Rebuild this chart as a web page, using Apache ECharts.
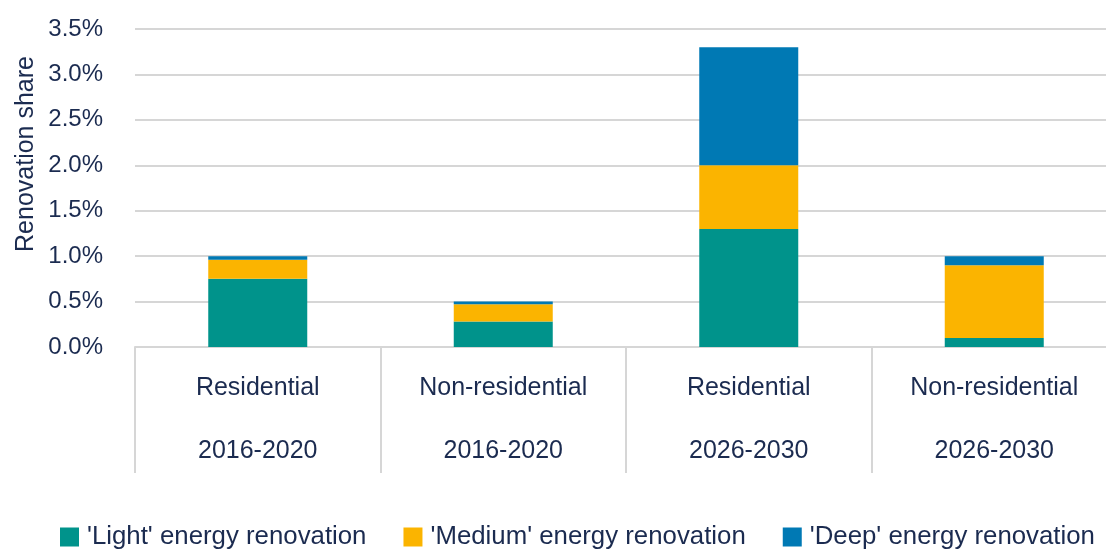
<!DOCTYPE html>
<html>
<head>
<meta charset="utf-8">
<script src="https://cdn.jsdelivr.net/npm/echarts@6/dist/echarts.min.js"></script>
<style>
  html, body { margin: 0; padding: 0; background: #fff; }
  #chart { width: 1106px; height: 552px; }
</style>
</head>
<body>
<div id="chart"></div>
<script>
// data
var groups = ['Residential', 'Non-residential', 'Residential', 'Non-residential'];
var periods = ['2016-2020', '2016-2020', '2026-2030', '2026-2030'];
var lightVals = [0.75, 0.28, 1.3, 0.1];
var mediumVals = [0.21, 0.19, 0.7, 0.8];
var deepVals = [0.04, 0.03, 1.3, 0.1];
var seriesNames = ["'Light' energy renovation", "'Medium' energy renovation", "'Deep' energy renovation"];
var yTicks = { min: 0, max: 3.5, step: 0.5 };

var textColor = '#1b2b50';
var lineColor = '#d6d6d6';
var fontFam = '"Liberation Sans", Arial, sans-serif';

var categories = groups.map(function (g, i) { return g + '\n' + periods[i]; });

var myChart = echarts.init(document.getElementById('chart'));
var option = {
    animation: false,
    color: ['#00938b', '#fbb400', '#0079b4'],
    textStyle: { fontFamily: fontFam, color: textColor },
    // plot runs a little past the right edge, as in the source image
    grid: { left: 135, width: 982, top: 29, bottom: 205, outerBoundsMode: 'none' },
    legend: {
        bottom: 2,
        left: 60,
        width: 1100,
        padding: 0,
        itemWidth: 19,
        itemHeight: 19,
        itemGap: 37,
        icon: 'rect',
        textStyle: { fontSize: 25.8, color: textColor, fontFamily: fontFam, padding: [0, 0, 0, 3] },
        data: seriesNames
    },
    xAxis: {
        type: 'category',
        data: categories,
        axisLine: { show: true, lineStyle: { color: lineColor, width: 2 } },
        axisTick: { show: true, length: 126, lineStyle: { color: lineColor, width: 2 } },
        axisLabel: {
            fontSize: 25,
            color: textColor,
            lineHeight: 63,
            margin: 10,
            interval: 0
        }
    },
    yAxis: {
        type: 'value',
        min: yTicks.min,
        max: yTicks.max,
        interval: yTicks.step,
        axisLine: { show: false },
        axisTick: { show: false },
        splitLine: { lineStyle: { color: lineColor, width: 2 } },
        axisLabel: {
            fontSize: 24,
            color: textColor,
            margin: 32,
            formatter: function (v) { return v.toFixed(1) + '%'; }
        }
    },
    graphic: [{
        type: 'text',
        x: 26,
        y: 154,
        rotation: Math.PI / 2,
        style: {
            text: 'Renovation share',
            fontSize: 25,
            fontFamily: fontFam,
            fill: textColor,
            textAlign: 'center',
            textVerticalAlign: 'middle'
        }
    }],
    series: [
        { name: seriesNames[0], type: 'bar', stack: 'total', barWidth: 99, data: lightVals },
        { name: seriesNames[1], type: 'bar', stack: 'total', barWidth: 99, data: mediumVals },
        { name: seriesNames[2], type: 'bar', stack: 'total', barWidth: 99, data: deepVals }
    ]
};
myChart.setOption(option);
</script>
</body>
</html>
